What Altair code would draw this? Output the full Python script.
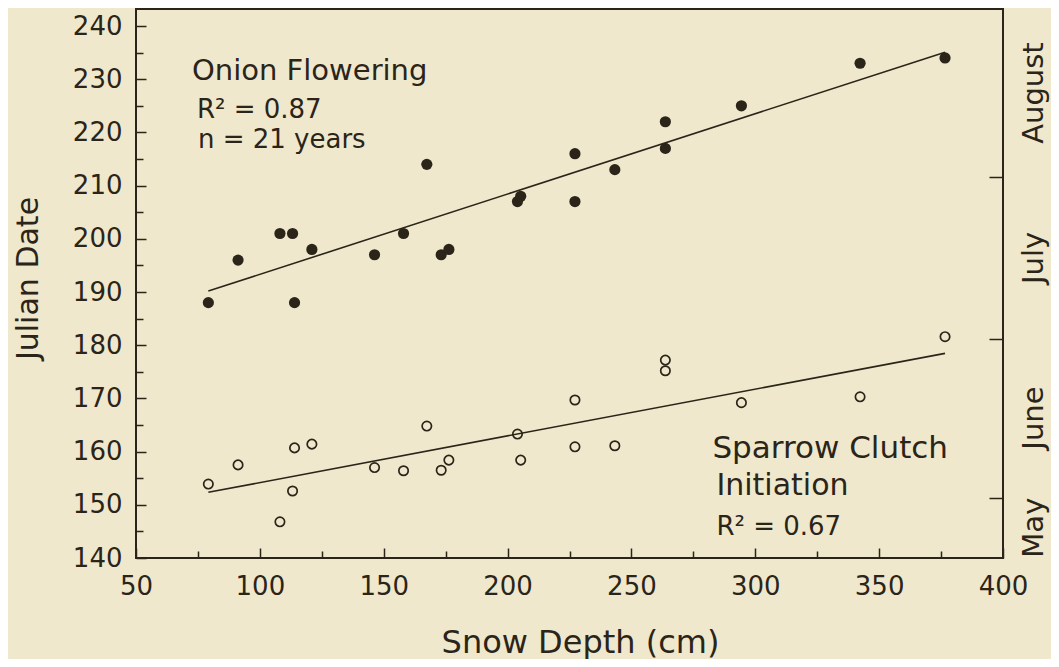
import altair as alt
import pandas as pd

# ---- data ----
snow_depth = [79.2, 91.2, 108.1, 113.2, 114.0, 121.0, 146.3, 158.0, 167.4, 173.2, 176.3,
              204.0, 205.3, 227.2, 227.2, 243.3, 263.7, 263.7, 294.4, 342.3, 376.6]
onion_dates = [188, 196, 201, 201, 188, 198, 197, 201, 214, 197, 198,
               207, 208, 216, 207, 213, 217, 222, 225, 233, 234]
sparrow_dates = [153.9, 157.5, 146.8, 152.6, 160.7, 161.4, 157.0, 156.4, 164.8, 156.5, 158.4,
                 163.3, 158.4, 169.7, 160.9, 161.1, 177.2, 175.2, 169.2, 170.3, 181.6]

month_bounds = [151.3, 181.2, 211.6]
month_names = ["May", "June", "July", "August"]
month_mids = [145.7, 166.3, 196.4, 227.4]

ann_text = ["Onion Flowering", "R² = 0.87", "n = 21 years",
            "Sparrow Clutch", "Initiation", "R² = 0.67"]
ann_x = [72.6, 74.6, 75.0, 282.7, 284.3, 284.3]
ann_y = [229.8, 222.7, 217.1, 158.8, 151.8, 144.3]
ann_size = [29, 26, 26, 31, 30, 26]

x_ticks = list(range(50, 401, 25))
y_ticks = list(range(140, 241, 5))

INK = "#2b2418"
BG = "#efe8cd"
FONT = "DejaVu Sans"

onion = pd.DataFrame({"depth": snow_depth, "date": onion_dates})
sparrow = pd.DataFrame({"depth": snow_depth, "date": sparrow_dates})
months = pd.DataFrame({"name": month_names, "mid": month_mids})
ann = pd.DataFrame({"t": ann_text, "x": ann_x, "y": ann_y, "s": ann_size})

W, H = 867, 549

xscale = alt.Scale(domain=[50, 400], nice=False, zero=False)
yscale = alt.Scale(domain=[140, 243.2], nice=False, zero=False)

x_axis = alt.Axis(
    values=x_ticks,
    labelExpr="datum.value % 50 === 0 ? datum.label : ''",
    tickSize=alt.ExprRef(expr="datum.value % 50 === 0 ? -10 : -7"),
    tickWidth=1.5, tickColor=INK,
    domain=False, grid=False,
    labelFont=FONT, labelFontSize=26, labelColor=INK, labelPadding=25,
    labelFlush=False, labelOverlap=False,
    title="Snow Depth (cm)", titleFont=FONT, titleFontSize=32, titleFontWeight="normal",
    titleColor=INK, titleX=444, titleY=94, titleBaseline="alphabetic", titleAlign="center",
)

y_axis_left = alt.Axis(
    values=y_ticks,
    labelExpr="datum.value % 10 === 0 ? datum.label : ''",
    tickSize=alt.ExprRef(expr="datum.value % 10 === 0 ? -10 : -7"),
    tickWidth=1.5, tickColor=INK,
    domain=False, grid=False,
    labelFont=FONT, labelFontSize=26, labelColor=INK, labelPadding=24,
    labelFlush=False, labelOverlap=False,
    title="Julian Date", titleFont=FONT, titleFontSize=30, titleFontWeight="normal",
    titleColor=INK, titleX=-99, titleY=269, titleAngle=270, titleBaseline="alphabetic",
    titleAlign="center",
)

y_axis_right = alt.Axis(
    orient="right", values=month_bounds, labels=False, title=None,
    tickSize=alt.ExprRef(expr="-14"), tickWidth=1.5, tickColor=INK,
    domain=False, grid=False,
)

onion_pts = alt.Chart(onion).mark_circle(size=125, color=INK, opacity=1).encode(
    x=alt.X("depth:Q", scale=xscale, axis=x_axis),
    y=alt.Y("date:Q", scale=yscale, axis=y_axis_left),
)

onion_fit = alt.Chart(onion).transform_regression("depth", "date").mark_line(
    color=INK, strokeWidth=1.6
).encode(
    x=alt.X("depth:Q", scale=xscale, axis=x_axis),
    y=alt.Y("date:Q", scale=yscale, axis=None),
)

sparrow_pts = alt.Chart(sparrow).mark_point(
    shape="circle", size=88, filled=False, color=INK, strokeWidth=1.7, opacity=1
).encode(
    x=alt.X("depth:Q", scale=xscale, axis=x_axis),
    y=alt.Y("date:Q", scale=yscale, axis=y_axis_right),
)

sparrow_fit = alt.Chart(sparrow).transform_regression("depth", "date").mark_line(
    color=INK, strokeWidth=1.6
).encode(
    x=alt.X("depth:Q", scale=xscale, axis=x_axis),
    y=alt.Y("date:Q", scale=yscale, axis=None),
)

month_txt = alt.Chart(months).mark_text(
    font=FONT, fontSize=29, color=INK, angle=270, align="center", baseline="middle"
).encode(
    x=alt.value(W + 31),
    y=alt.Y("mid:Q", scale=yscale, axis=None),
    text="name:N",
)

ann_txt = alt.Chart(ann).mark_text(
    font=FONT, color=INK, align="left", baseline="alphabetic"
).encode(
    x=alt.X("x:Q", scale=xscale, axis=x_axis),
    y=alt.Y("y:Q", scale=yscale, axis=None),
    text="t:N",
    size=alt.Size("s:Q", scale=None, legend=None),
)

chart = alt.layer(
    onion_pts, onion_fit, sparrow_pts, sparrow_fit, month_txt, ann_txt
).resolve_axis(y="independent").properties(
    width=W, height=H,
    autosize=alt.AutoSizeParams(type="none"),
    padding={"left": 128, "top": 1, "right": 48, "bottom": 101},
    background=BG,
).configure_view(
    stroke=INK, strokeWidth=2
)

chart.save("out.html", embed_options={"renderer": "svg", "actions": False})
